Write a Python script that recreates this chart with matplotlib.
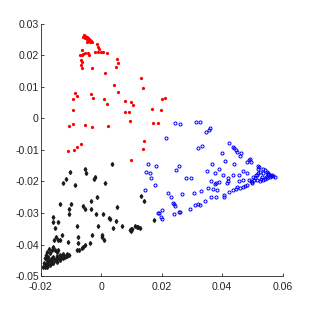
import numpy as np
import matplotlib
matplotlib.use("Agg")
import matplotlib.pyplot as plt

# red group (dots)
red_x = [-0.0057, -0.0054, -0.0051, -0.0046, -0.0043, -0.0040, -0.0038, -0.0034, -0.0053, -0.0049,
         -0.0044, -0.0060, -0.0038, -0.0032, -0.0046, -0.0065, -0.0062, -0.0071, -0.0065, -0.0054,
         -0.0043, -0.0040, -0.0015, -0.0012, -0.0007, -0.0021, -0.0010, -0.0002, 0.0007, 0.0018,
         -0.0068, -0.0063, -0.0067, -0.0065, -0.0030, 0.0013, 0.0051, 0.0056, 0.0049, 0.0131,
         0.0139, 0.0043, 0.0056, -0.0087, -0.0079, -0.0093, -0.0093, -0.0033, -0.0029, 0.0009,
         0.0020, 0.0078, 0.0097, 0.0106, 0.0078, 0.0093, 0.0095, 0.0167, 0.0196, 0.0200,
         0.0211, 0.0170, 0.0188, -0.0107, -0.0095, -0.0053, -0.0031, 0.0022, 0.0142, 0.0137,
         0.0097, -0.0109, -0.0089, -0.0079, -0.0067]
red_y = [0.0264, 0.0261, 0.0259, 0.0257, 0.0254, 0.0251, 0.0249, 0.0246, 0.0254, 0.0251,
         0.0246, 0.0259, 0.0243, 0.0243, 0.0243, 0.0217, 0.0204, 0.0201, 0.0201, 0.0208,
         0.0208, 0.0201, 0.0235, 0.0227, 0.0219, 0.0211, 0.0211, 0.0211, 0.0211, 0.0208,
         0.0185, 0.0180, 0.0169, 0.0159, 0.0159, 0.0145, 0.0187, 0.0177, 0.0164, 0.0129,
         0.0095, 0.0106, 0.0085, 0.0079, 0.0072, 0.0061, 0.0026, 0.0076, 0.0063, 0.0061,
         0.0045, 0.0056, 0.0052, 0.0042, 0.0019, 0.0019, -0.0007, 0.0030, 0.0026, 0.0060,
         0.0066, -0.0016, -0.0016, -0.0024, -0.0018, -0.0021, -0.0026, -0.0024, -0.0073, -0.0098,
         -0.0133, -0.0103, -0.0100, -0.0090, -0.0082]

# blue group (circles)
blue_x = [0.0245, 0.0259, 0.0314, 0.0328, 0.0214, 0.0358, 0.0356, 0.0345, 0.0332, 0.0319,
          0.0424, 0.0437, 0.0440, 0.0446, 0.0448, 0.0461, 0.0459, 0.0398, 0.0409, 0.0487,
          0.0492, 0.0494, 0.0481, 0.0520, 0.0523, 0.0518, 0.0534, 0.0542, 0.0547, 0.0553,
          0.0558, 0.0564, 0.0569, 0.0575, 0.0558, 0.0547, 0.0536, 0.0525, 0.0514, 0.0509,
          0.0503, 0.0512, 0.0534, 0.0525, 0.0520, 0.0439, 0.0367, 0.0351, 0.0390, 0.0377,
          0.0404, 0.0420, 0.0435, 0.0454, 0.0470, 0.0481, 0.0454, 0.0470, 0.0490, 0.0498,
          0.0500, 0.0483, 0.0476, 0.0468, 0.0459, 0.0450, 0.0446, 0.0437, 0.0424, 0.0407,
          0.0406, 0.0418, 0.0417, 0.0388, 0.0375, 0.0363, 0.0379, 0.0384, 0.0371, 0.0354,
          0.0331, 0.0305, 0.0268, 0.0220, 0.0230, 0.0238, 0.0239, 0.0244, 0.0242, 0.0257,
          0.0260, 0.0293, 0.0310, 0.0321, 0.0327, 0.0343, 0.0363, 0.0379, 0.0200, 0.0192,
          0.0186, 0.0197, 0.0201, 0.0145, 0.0178, 0.0163, 0.0161, 0.0148, 0.0156, 0.0181,
          0.0246, 0.0257, 0.0279, 0.0297, 0.0544, 0.0552, 0.0561, 0.0540, 0.0530, 0.0516,
          0.0528, 0.0550, 0.0505, 0.0495]
blue_y = [-0.0014, -0.0017, -0.0013, -0.0013, -0.0061, -0.0032, -0.0037, -0.0044, -0.0087, -0.0095,
          -0.0079, -0.0090, -0.0095, -0.0100, -0.0106, -0.0111, -0.0118, -0.0111, -0.0135, -0.0132,
          -0.0130, -0.0137, -0.0137, -0.0151, -0.0155, -0.0162, -0.0159, -0.0164, -0.0169, -0.0174,
          -0.0178, -0.0180, -0.0182, -0.0185, -0.0185, -0.0190, -0.0196, -0.0199, -0.0196, -0.0190,
          -0.0185, -0.0180, -0.0174, -0.0169, -0.0174, -0.0145, -0.0145, -0.0166, -0.0162, -0.0174,
          -0.0178, -0.0190, -0.0180, -0.0180, -0.0167, -0.0174, -0.0198, -0.0196, -0.0196, -0.0201,
          -0.0206, -0.0211, -0.0215, -0.0217, -0.0222, -0.0219, -0.0225, -0.0227, -0.0233, -0.0243,
          -0.0248, -0.0199, -0.0206, -0.0201, -0.0208, -0.0199, -0.0204, -0.0227, -0.0225, -0.0220,
          -0.0229, -0.0238, -0.0240, -0.0235, -0.0250, -0.0268, -0.0273, -0.0278, -0.0304, -0.0298,
          -0.0296, -0.0286, -0.0275, -0.0273, -0.0275, -0.0262, -0.0250, -0.0248, -0.0291, -0.0299,
          -0.0301, -0.0314, -0.0319, -0.0227, -0.0211, -0.0190, -0.0174, -0.0171, -0.0145, -0.0150,
          -0.0163, -0.0150, -0.0188, -0.0188, -0.0186, -0.0181, -0.0183, -0.0192, -0.0187, -0.0178,
          -0.0192, -0.0176, -0.0195, -0.0200]

# black group (diamonds)
black_x = [0.0036, -0.0053, -0.0052, -0.0103, -0.0117, -0.0127, -0.0088, -0.0021, -0.0023, 0.0012,
           -0.0015, -0.0035, -0.0060, -0.0034, -0.0138, -0.0099, -0.0108, -0.0106, -0.0159, -0.0161,
           -0.0143, -0.0153, -0.0082, -0.0054, -0.0017, 0.0004, 0.0024, 0.0029, 0.0053, 0.0070,
           0.0040, 0.0049, -0.0010, 0.0003, 0.0009, 0.0002, -0.0032, -0.0038, -0.0076, -0.0076,
           -0.0081, -0.0073, -0.0065, -0.0060, -0.0054, -0.0109, -0.0131, -0.0137, -0.0142, -0.0157,
           -0.0150, 0.0095, 0.0098, 0.0102, 0.0111, 0.0117, 0.0122, 0.0128, 0.0098, 0.0142,
           0.0131, 0.0173, -0.0192, -0.0186, -0.0181, -0.0175, -0.0170, -0.0164, -0.0159, -0.0148,
           -0.0137, -0.0126, -0.0115, -0.0106, -0.0181, -0.0175, -0.0170, -0.0164, -0.0159, -0.0153,
           -0.0148, -0.0142, -0.0170, -0.0159, -0.0148, -0.0137, -0.0126, -0.0186, -0.0183, -0.0179,
           -0.0172, -0.0190, -0.0187, -0.0131, -0.0120, -0.0115, -0.0181, -0.0153, -0.0142, -0.0164,
           -0.0178, -0.0168, -0.0156, -0.0145, -0.0134, -0.0124]
black_y = [-0.0145, -0.0161, -0.0172, -0.0171, -0.0193, -0.0206, -0.0212, -0.0187, -0.0192, -0.0206,
           -0.0248, -0.0262, -0.0278, -0.0287, -0.0272, -0.0272, -0.0288, -0.0303, -0.0312, -0.0328,
           -0.0328, -0.0346, -0.0341, -0.0287, -0.0303, -0.0304, -0.0315, -0.0320, -0.0282, -0.0341,
           -0.0349, -0.0326, -0.0341, -0.0370, -0.0386, -0.0375, -0.0370, -0.0394, -0.0377, -0.0394,
           -0.0417, -0.0417, -0.0412, -0.0407, -0.0402, -0.0391, -0.0370, -0.0386, -0.0386, -0.0384,
           -0.0377, -0.0354, -0.0352, -0.0350, -0.0341, -0.0343, -0.0345, -0.0346, -0.0357, -0.0262,
           -0.0245, -0.0323, -0.0470, -0.0465, -0.0460, -0.0455, -0.0449, -0.0444, -0.0439, -0.0437,
           -0.0433, -0.0431, -0.0430, -0.0433, -0.0449, -0.0439, -0.0428, -0.0417, -0.0407, -0.0417,
           -0.0423, -0.0417, -0.0465, -0.0459, -0.0454, -0.0449, -0.0444, -0.0444, -0.0433, -0.0423,
           -0.0415, -0.0460, -0.0472, -0.0439, -0.0439, -0.0437, -0.0470, -0.0449, -0.0444, -0.0458,
           -0.0462, -0.0452, -0.0447, -0.0442, -0.0438, -0.0436]

xticks = [-0.02, 0, 0.02, 0.04, 0.06]
yticks = [-0.05, -0.04, -0.03, -0.02, -0.01, 0, 0.01, 0.02, 0.03]
xlabels = ['-0.02', '0', '0.02', '0.04', '0.06']
ylabels = ['-0.05', '-0.04', '-0.03', '-0.02', '-0.01', '0', '0.01', '0.02', '0.03']

plt.rcParams['font.family'] = ['Liberation Sans', 'DejaVu Sans']

fig = plt.figure(figsize=(3.12, 3.12), dpi=100)
ax = fig.add_axes([0.131, 0.115, 0.775, 0.809])

ax.plot(red_x, red_y, '.', color='red', markersize=2.6, linestyle='none')
ax.plot(blue_x, blue_y, 'o', color='blue', markerfacecolor='none', markersize=2.2,
        markeredgewidth=0.7, linestyle='none')
ax.plot(black_x, black_y, 'd', color='#1a1a1a', markersize=2.0, linestyle='none')

ax.set_xlim(-0.02, 0.06)
ax.set_ylim(-0.05, 0.03)
ax.set_xticks(xticks)
ax.set_yticks(yticks)
ax.set_xticklabels(xlabels)
ax.set_yticklabels(ylabels)

for s in ['top', 'right']:
    ax.spines[s].set_visible(False)
for s in ['left', 'bottom']:
    ax.spines[s].set_color('#262626')
    ax.spines[s].set_linewidth(0.6)
ax.tick_params(direction='in', length=2.5, width=0.6, colors='#262626',
               labelsize=7.6)
ax.tick_params(axis='y', pad=1.5)
ax.tick_params(axis='x', pad=4)

fig.savefig('out.png', dpi=100)
